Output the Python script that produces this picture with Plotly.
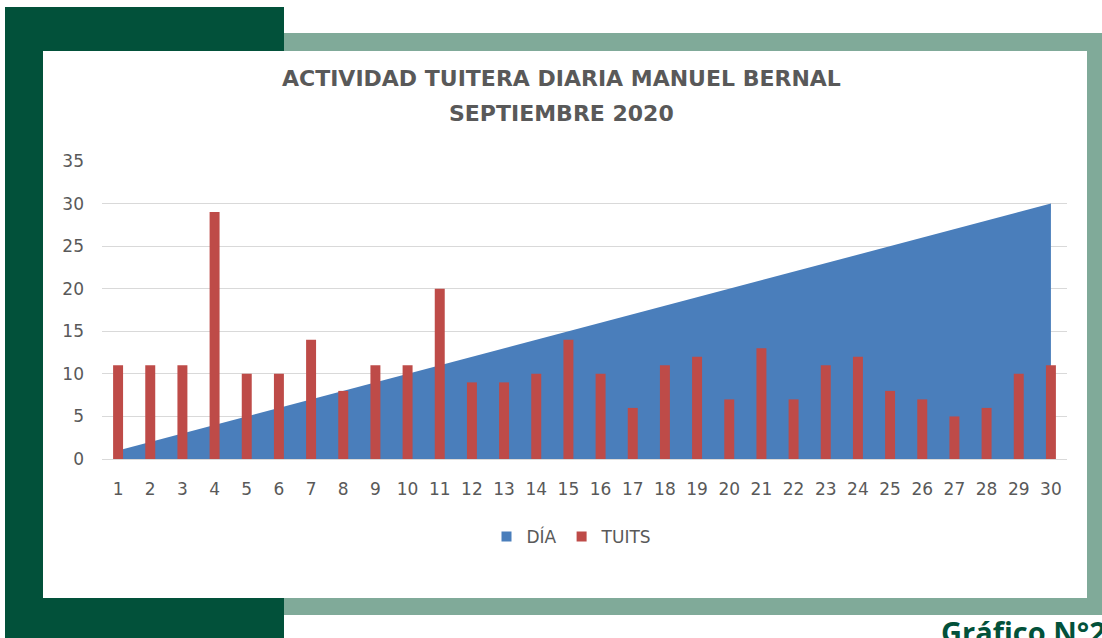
import plotly.graph_objects as go

# ---- data ----
days = ["1", "2", "3", "4", "5", "6", "7", "8", "9", "10",
        "11", "12", "13", "14", "15", "16", "17", "18", "19", "20",
        "21", "22", "23", "24", "25", "26", "27", "28", "29", "30"]
dia = [1, 2, 3, 4, 5, 6, 7, 8, 9, 10,
       11, 12, 13, 14, 15, 16, 17, 18, 19, 20,
       21, 22, 23, 24, 25, 26, 27, 28, 29, 30]
tuits = [11, 11, 11, 29, 10, 10, 14, 8, 11, 11,
         20, 9, 9, 10, 14, 10, 6, 11, 12, 7,
         13, 7, 11, 12, 8, 7, 5, 6, 10, 11]
y_ticks = [0, 5, 10, 15, 20, 25, 30, 35]
series_names = ["DÍA", "TUITS"]

title_line1 = "ACTIVIDAD TUITERA DIARIA MANUEL BERNAL"
title_line2 = "SEPTIEMBRE 2020"
caption_text = "Gráfico N°27"

# ---- layout geometry (page pixels) ----
W, H = 1102, 638
L, R, T, B = 102, 1067, 161, 459   # plot area edges in page pixels
pw, ph = R - L, B - T


def px(x):
    return (x - L) / pw


def py(y):
    return (B - y) / ph


BLUE = "#4a7ebb"
RED = "#be4b48"
GRAY = "#595959"
DARK = "#02513a"
SAGE = "#80aa99"
FONT = "DejaVu Sans"

fig = go.Figure()
# area (bottom subplot)
fig.add_trace(go.Scatter(
    x=days, y=dia, name=series_names[0], mode="lines",
    line=dict(color=BLUE, width=0), fill="tozeroy", fillcolor=BLUE,
    showlegend=False, xaxis="x", yaxis="y",
))
# bars (overlay subplot, drawn on top of the area)
fig.add_trace(go.Bar(
    x=days, y=tuits, name=series_names[1],
    marker=dict(color=RED, line=dict(width=0)),
    width=0.31, showlegend=False, xaxis="x2", yaxis="y2",
))
# legend entries (square swatches)
for nm, col in zip(series_names, [BLUE, RED]):
    fig.add_trace(go.Scatter(
        x=[None], y=[None], name=nm, mode="markers",
        marker=dict(symbol="square", size=10, color=col),
        showlegend=True, hoverinfo="skip", xaxis="x", yaxis="y",
    ))

shapes = [
    dict(type="rect", xref="paper", yref="paper", x0=px(284), x1=px(1130),
         y0=py(33), y1=py(615), fillcolor=SAGE, line=dict(width=0), layer="below"),
    dict(type="rect", xref="paper", yref="paper", x0=px(5), x1=px(284),
         y0=py(7), y1=py(660), fillcolor=DARK, line=dict(width=0), layer="below"),
    dict(type="rect", xref="paper", yref="paper", x0=px(43), x1=px(1087),
         y0=py(51), y1=py(598), fillcolor="white", line=dict(width=0), layer="below"),
]

annotations = [
    dict(text="<b>" + title_line1 + "</b>", xref="paper", yref="paper",
         x=px(561), y=py(78), xanchor="center", yanchor="middle", showarrow=False,
         font=dict(family=FONT, size=22, color=GRAY)),
    dict(text="<b>" + title_line2 + "</b>", xref="paper", yref="paper",
         x=px(561), y=py(113), xanchor="center", yanchor="middle", showarrow=False,
         font=dict(family=FONT, size=22, color=GRAY)),
    dict(text="<b>" + caption_text + "</b>", xref="paper", yref="paper",
         x=px(939), y=py(610), xanchor="left", yanchor="top", showarrow=False,
         font=dict(family="Open Sans", size=29, color=DARK), align="left"),
]

fig.update_layout(
    width=W, height=H,
    margin=dict(l=L, r=W - R, t=T, b=H - B, pad=0),
    paper_bgcolor="white", plot_bgcolor="rgba(0,0,0,0)",
    shapes=shapes, annotations=annotations,
    showlegend=True,
    legend=dict(orientation="h", x=px(572), xanchor="center", y=py(537), yanchor="middle",
                font=dict(family=FONT, size=17, color=GRAY), bgcolor="rgba(0,0,0,0)",
                traceorder="normal", itemwidth=30),
    font=dict(family=FONT, color=GRAY),
    xaxis=dict(type="category", range=[-0.5, 29.5], showgrid=False,
               showline=True, linecolor="#d9d9d9", linewidth=1,
               ticks="", tickfont=dict(family=FONT, size=17, color=GRAY),
               ticklabelstandoff=15, zeroline=False),
    yaxis=dict(range=[0, 35], tickvals=y_ticks, showgrid=True, gridcolor="#d9d9d9",
               gridwidth=1, zeroline=False, showline=False, ticks="",
               tickfont=dict(family=FONT, size=17, color=GRAY), ticklabelstandoff=17),
    xaxis2=dict(type="category", range=[-0.5, 29.5], overlaying="x", visible=False),
    yaxis2=dict(range=[0, 35], overlaying="y", visible=False),
)

fig.write_html(
    "out.html",
    config={"displayModeBar": False},
    post_script="document.body.style.margin='0';document.body.style.overflow='hidden';",
)
